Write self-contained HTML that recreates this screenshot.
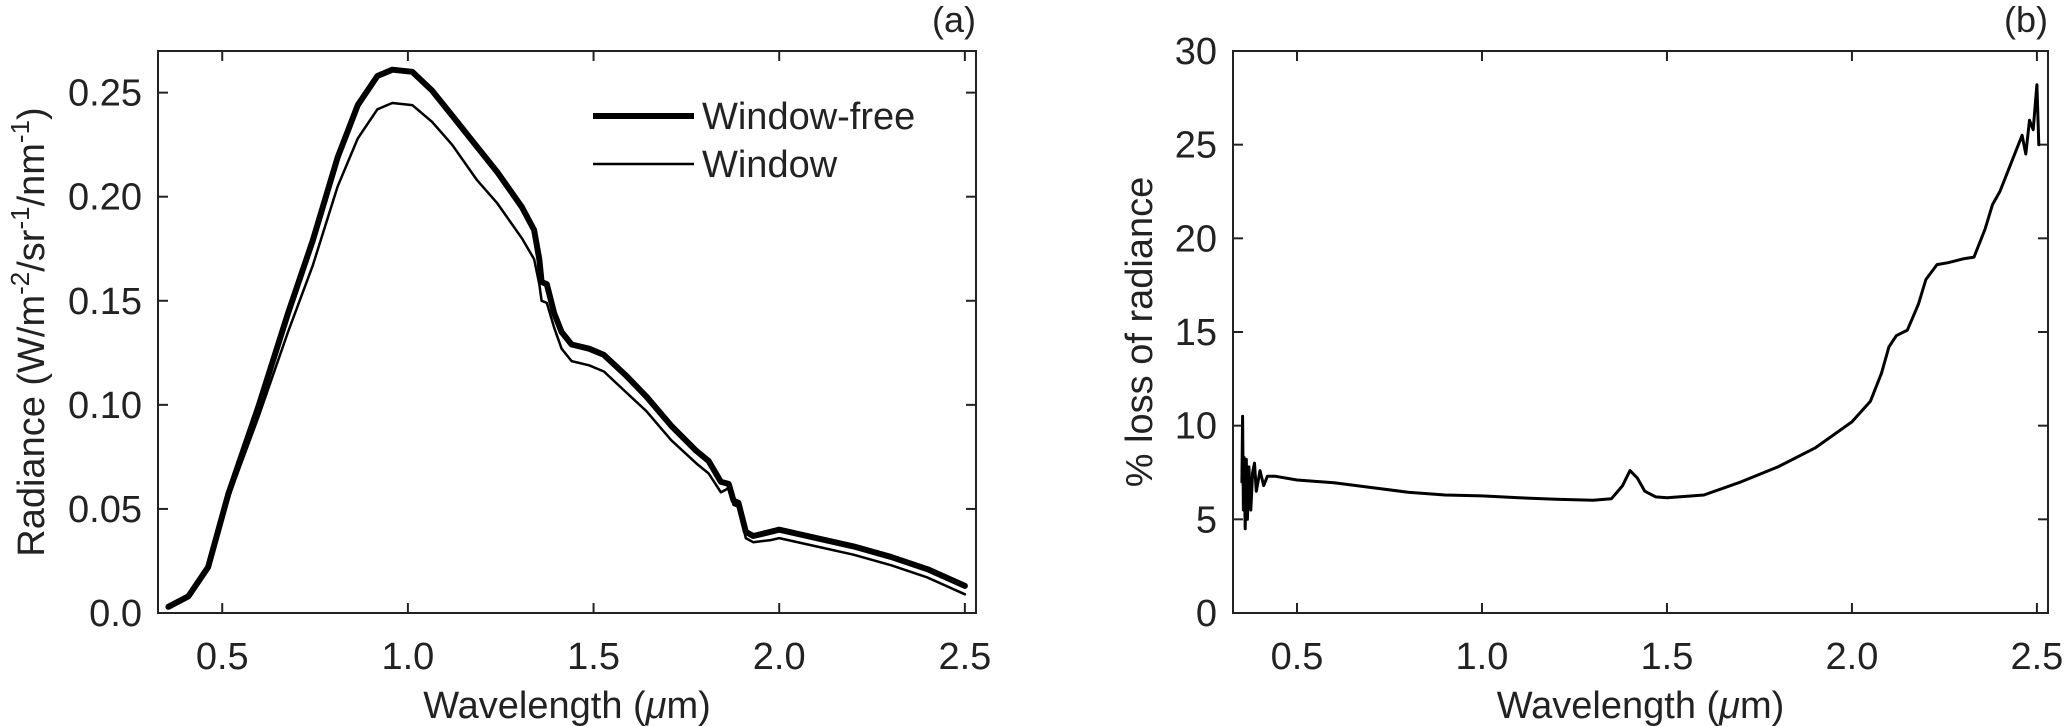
<!DOCTYPE html>
<html><head><meta charset="utf-8"><style>
html,body{margin:0;padding:0;background:#fff;}
svg{display:block;font-family:"Liberation Sans",Arial,sans-serif;}
</style></head><body>
<svg id="fig" width="2067" height="726" viewBox="0 0 2067 726" xmlns="http://www.w3.org/2000/svg"></svg>
<script>
const wlA = [0.355,0.409,0.462,0.516,0.597,0.677,0.744,0.811,0.865,0.918,0.958,1.012,1.065,1.119,1.186,1.240,1.307,1.340,1.354,1.360,1.374,1.394,1.414,1.441,1.488,1.528,1.588,1.642,1.709,1.776,1.810,1.843,1.864,1.877,1.890,1.910,1.930,1.977,2.0,2.1,2.2,2.3,2.4,2.5];
const freeVals = [0.003,0.008,0.022,0.057,0.099,0.144,0.179,0.219,0.244,0.258,0.261,0.260,0.251,0.239,0.224,0.212,0.195,0.184,0.170,0.159,0.158,0.144,0.135,0.129,0.127,0.124,0.114,0.104,0.090,0.078,0.073,0.063,0.062,0.054,0.053,0.039,0.037,0.039,0.040,0.036,0.032,0.027,0.021,0.013];
const windowVals = [0.003,0.008,0.021,0.055,0.094,0.135,0.167,0.205,0.228,0.242,0.245,0.244,0.236,0.225,0.208,0.197,0.180,0.170,0.158,0.150,0.149,0.137,0.127,0.121,0.119,0.116,0.106,0.097,0.083,0.072,0.067,0.058,0.060,0.052,0.051,0.036,0.034,0.035,0.036,0.032,0.028,0.023,0.017,0.009];
const wlB = [0.351,0.353,0.355,0.357,0.36,0.363,0.366,0.37,0.375,0.38,0.385,0.39,0.40,0.41,0.42,0.44,0.5,0.6,0.7,0.8,0.9,1.0,1.1,1.2,1.3,1.35,1.38,1.4,1.42,1.44,1.47,1.5,1.6,1.7,1.8,1.9,2.0,2.05,2.08,2.1,2.12,2.15,2.18,2.2,2.23,2.26,2.3,2.33,2.36,2.38,2.4,2.42,2.44,2.46,2.47,2.48,2.49,2.5,2.505];
const lossVals = [7,10.5,5.5,8.3,4.5,8.2,5,7.8,5.5,7.5,8,6.5,7.6,6.8,7.3,7.3,7.1,6.95,6.7,6.45,6.3,6.25,6.15,6.07,6.02,6.1,6.8,7.6,7.2,6.5,6.2,6.15,6.3,7.0,7.8,8.8,10.2,11.3,12.8,14.2,14.8,15.1,16.5,17.8,18.6,18.7,18.9,19.0,20.5,21.8,22.5,23.5,24.5,25.5,24.5,26.3,25.8,28.2,25];
const xTicks = [0.5,1.0,1.5,2.0,2.5];
const xTickLabels = ["0.5","1.0","1.5","2.0","2.5"];
const yTicksA = [0,0.05,0.10,0.15,0.20,0.25];
const yTickLabelsA = ["0.0","0.05","0.10","0.15","0.20","0.25"];
const yTicksB = [0,5,10,15,20,25,30];
const yTickLabelsB = ["0","5","10","15","20","25","30"];

const NS="http://www.w3.org/2000/svg";
const svg=document.getElementById('fig');
function mk(tag,attrs,parent){const e=document.createElementNS(NS,tag);for(const k in attrs)e.setAttribute(k,attrs[k]);(parent||svg).appendChild(e);return e;}

function panel(o){
  const g=mk('g',{});
  
  
  const sx=v=>o.L+(v-o.x0)/(o.x1-o.x0)*(o.R-o.L);
  const sy=v=>o.B-(v-o.y0)/(o.y1-o.y0)*(o.B-o.T);
  const ax=mk('rect',{x:o.L,y:o.T,width:o.R-o.L,height:o.B-o.T,fill:'none',stroke:'#222','stroke-width':2},g);
  
  
  xTicks.forEach((t,i)=>{
    const x=sx(t);
    mk('line',{x1:x,y1:o.B,x2:x,y2:o.B-10,stroke:'#222','stroke-width':2},g);
    mk('line',{x1:x,y1:o.T,x2:x,y2:o.T+10,stroke:'#222','stroke-width':2},g);
    const tx=mk('text',{x:x,y:o.B+56,'font-size':38,'text-anchor':'middle',fill:'#222'},g);
    tx.textContent=xTickLabels[i];
    
    
  });
  o.yt.forEach((t,i)=>{
    const y=sy(t);
    mk('line',{x1:o.L,y1:y,x2:o.L+10,y2:y,stroke:'#222','stroke-width':2},g);
    mk('line',{x1:o.R,y1:y,x2:o.R-10,y2:y,stroke:'#222','stroke-width':2},g);
    const tx=mk('text',{x:o.L-16,y:y+13,'font-size':38,'text-anchor':'end',fill:'#222'},g);
    tx.textContent=o.ytl[i];
    
    
  });
  const xt=mk('text',{x:(o.L+o.R)/2,y:718,'font-size':38,'text-anchor':'middle',fill:'#222'},g);
  xt.innerHTML='Wavelength (<tspan font-style="italic">μ</tspan>m)';
  
  
  const lab=mk('text',{x:o.R,y:32,'font-size':36,'text-anchor':'end',fill:'#222'},g);
  lab.textContent=o.label;
  
  
  o.series.forEach(s=>{
    const d=s.x.map((v,i)=>(i?'L':'M')+sx(v).toFixed(1)+','+sy(s.y[i]).toFixed(1)).join(' ');
    const p=mk('path',{d:d,fill:'none',stroke:'#000','stroke-width':s.w,'stroke-linejoin':'round','stroke-linecap':'round'},g);
    
    
  });
  return g;
}

panel({name:'panel-a',L:158,R:976,T:51,B:613,x0:0.327,x1:2.53,y0:0,y1:0.27,yt:yTicksA,ytl:yTickLabelsA,label:'(a)',
  series:[{name:'window-line',x:wlA,y:windowVals,w:2.5},{name:'window-free-line',x:wlA,y:freeVals,w:6}]});
panel({name:'panel-b',L:1233,R:2048,T:51,B:613,x0:0.327,x1:2.53,y0:0,y1:30,yt:yTicksB,ytl:yTickLabelsB,label:'(b)',
  series:[{name:'loss-line',x:wlB,y:lossVals,w:3}]});

let t=mk('text',{transform:'translate(44,332) rotate(-90)','font-size':38,'text-anchor':'middle',fill:'#222'});
t.innerHTML='Radiance (W/m<tspan dy="-15" font-size="26">-2</tspan><tspan dy="15">/sr</tspan><tspan dy="-15" font-size="26">-1</tspan><tspan dy="15">/nm</tspan><tspan dy="-15" font-size="26">-1</tspan><tspan dy="15">)</tspan>';


t=mk('text',{transform:'translate(1152,332) rotate(-90)','font-size':38,'text-anchor':'middle',fill:'#222'});
t.textContent='% loss of radiance';



const lg=mk('g',{});


let l=mk('line',{x1:593,y1:116,x2:694,y2:116,stroke:'#000','stroke-width':6},lg);


l=mk('line',{x1:593,y1:164,x2:694,y2:164,stroke:'#000','stroke-width':2.5},lg);


t=mk('text',{x:702,y:129,'font-size':38,fill:'#222'},lg);
t.textContent='Window-free';


t=mk('text',{x:702,y:177,'font-size':38,fill:'#222'},lg);
t.textContent='Window';


</script>
</body></html>
